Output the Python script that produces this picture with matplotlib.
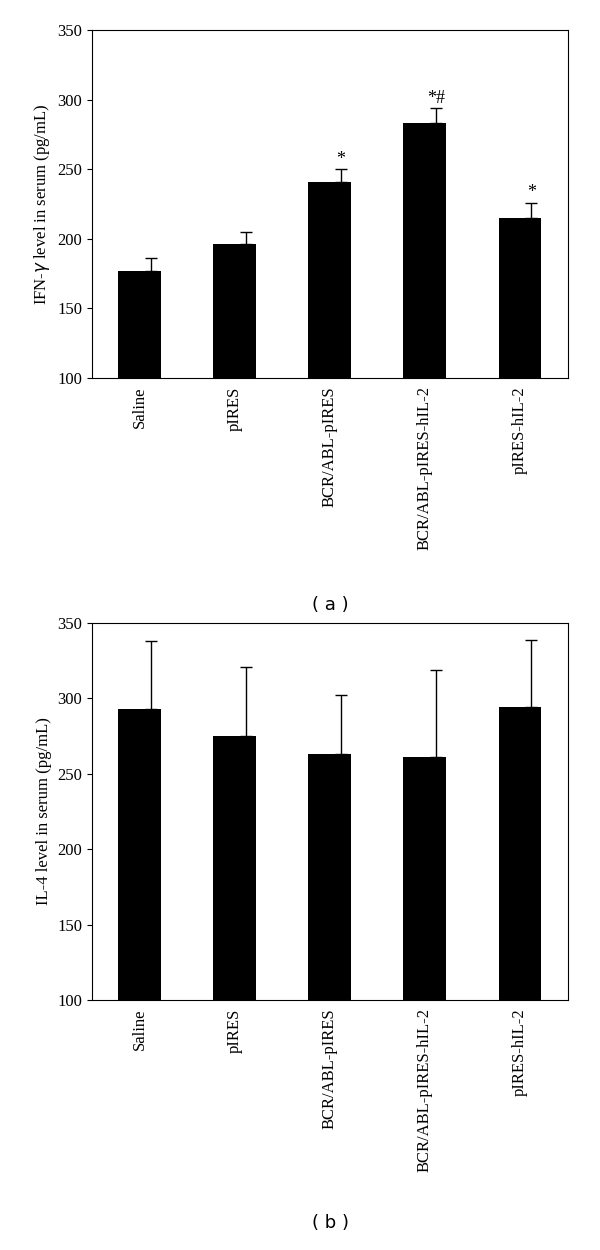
import matplotlib
matplotlib.use("Agg")
import matplotlib.pyplot as plt
import numpy as np

groups = ["Saline", "pIRES", "BCR/ABL-pIRES", "BCR/ABL-pIRES-hIL-2", "pIRES-hIL-2"]
ifn_vals = [177, 196, 241, 283, 215]
ifn_err = [9, 9, 9, 11, 11]
ifn_marks = ["", "", "*", "*#", "*"]
il4_vals = [293, 275, 263, 261, 294]
il4_err = [45, 46, 39, 58, 45]

plt.rcParams["font.family"] = "Liberation Serif"
fig = plt.figure(figsize=(6, 12.5), dpi=100)

def panel(rect, vals, err, ylabel, marks=None):
    ax = fig.add_axes(rect)
    x = np.arange(len(groups))
    ax.bar(x, np.array(vals) - 100, bottom=100, width=0.45, color="black")
    ax.errorbar(x + 0.12, vals, yerr=[np.zeros(len(err)), err], fmt="none",
                ecolor="black", elinewidth=1, capsize=4, capthick=1)
    if marks:
        for xi, v, e, m in zip(x, vals, err, marks):
            if m:
                ax.text(xi + 0.12, v + e + 1, m, ha="center", va="bottom", fontsize=13)
    ax.set_xlim(-0.5, len(groups) - 0.5)
    ax.set_ylim(100, 350)
    ax.set_yticks(range(100, 351, 50))
    ax.set_xticks(x)
    ax.set_xticklabels(groups, rotation=90, fontsize=12)
    ax.tick_params(axis="y", labelsize=12)
    ax.tick_params(axis="x", length=0, pad=6)
    ax.set_ylabel(ylabel, fontsize=12)
    return ax

panel([0.153, 0.6976, 0.793, 0.2784], ifn_vals, ifn_err,
      "IFN-$\\gamma$ level in serum (pg/mL)", ifn_marks)
panel([0.153, 0.2, 0.793, 0.3016], il4_vals, il4_err,
      "IL-4 level in serum (pg/mL)")

fig.text(0.55, 0.516, "( a )", ha="center", va="center", fontsize=13, family="DejaVu Sans")
fig.text(0.55, 0.022, "( b )", ha="center", va="center", fontsize=13, family="DejaVu Sans")

fig.savefig("out.png", dpi=100)
